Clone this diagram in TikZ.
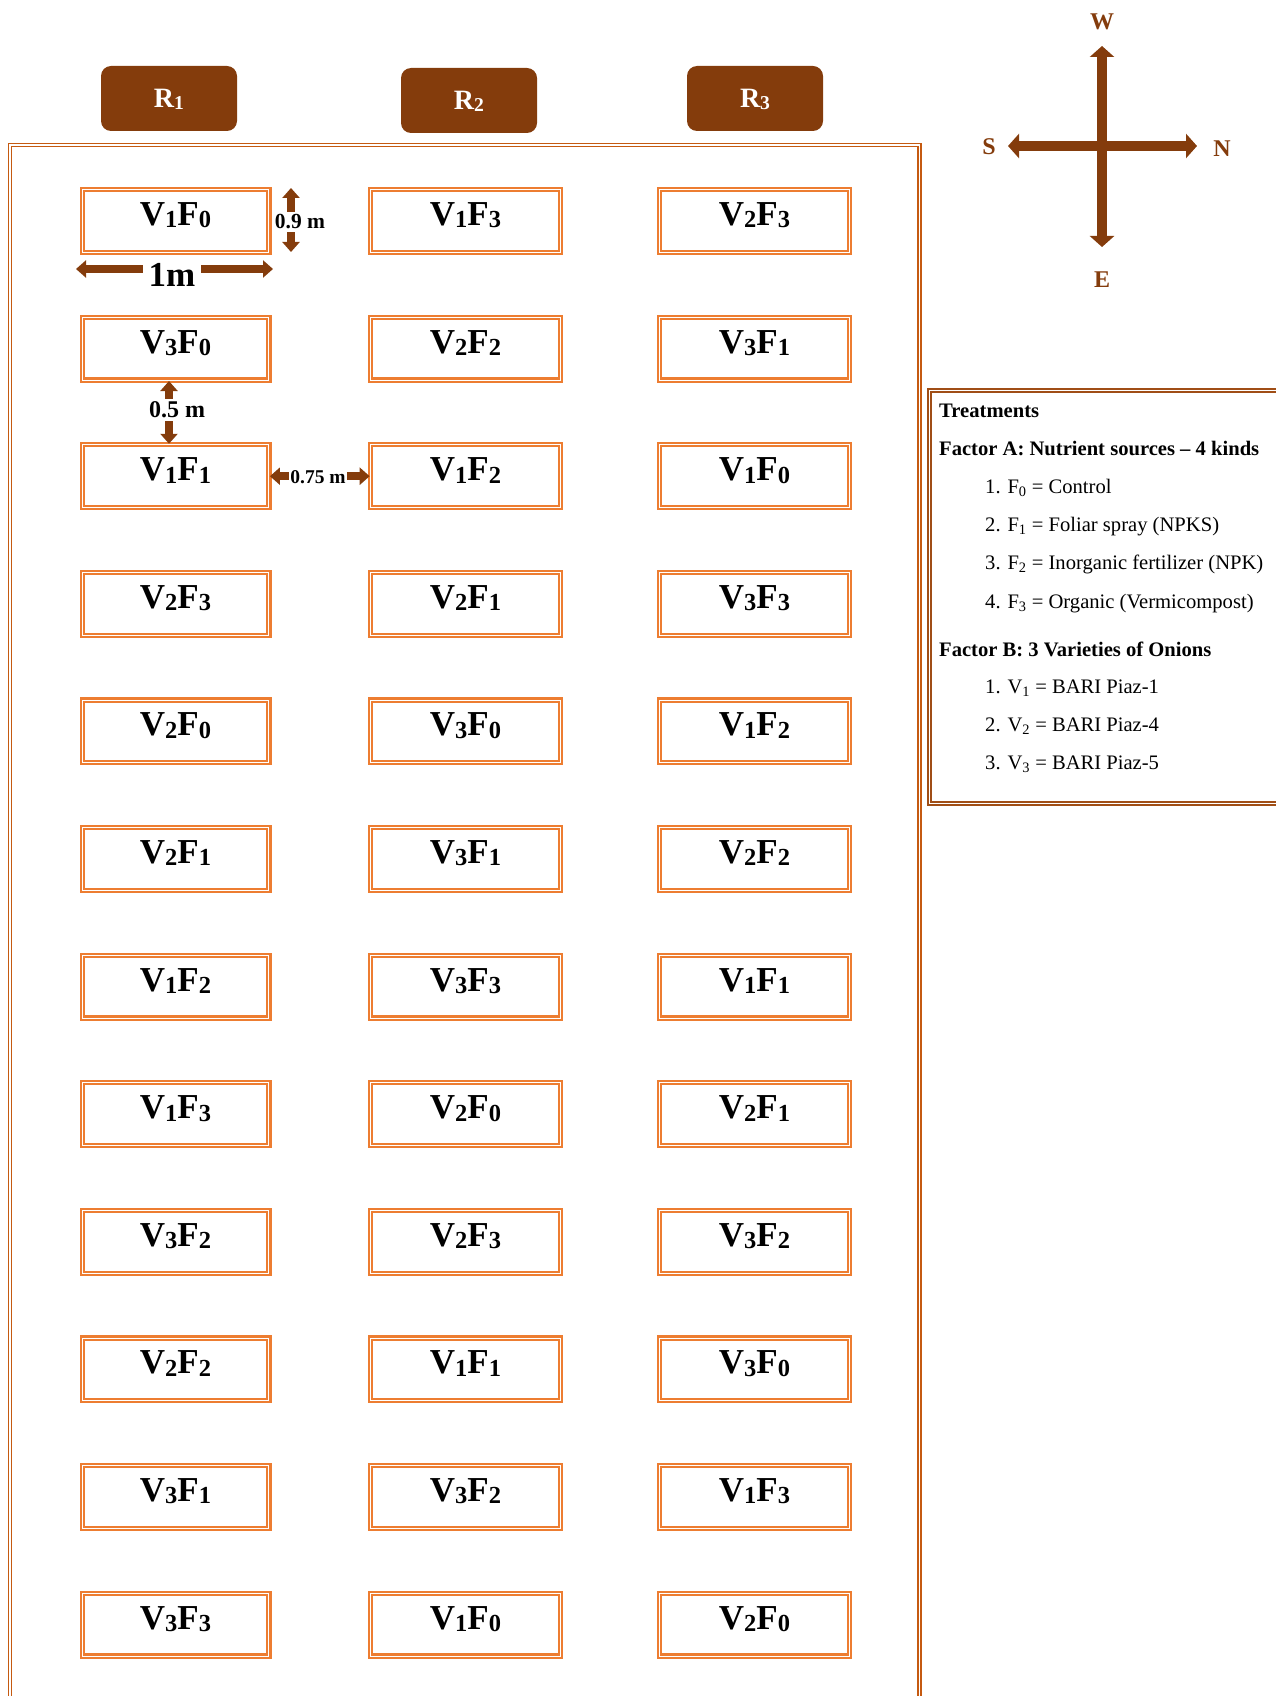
\documentclass[tikz,border=0pt]{standalone}
\usepackage{fontspec}
\setmainfont{Liberation Serif}
\usetikzlibrary{arrows.meta,calc}
\definecolor{plotorange}{RGB}{237,125,49}
\definecolor{repbrown}{RGB}{132,60,12}
\definecolor{framebrown}{RGB}{197,90,17}
\definecolor{legbrown}{RGB}{160,78,22}
\newcommand{\dn}[1]{%
  \raisebox{-0.07em}{\scalebox{0.7}{#1}}}
\newcommand{\vf}[2]{%
  V\dn{#1}F\dn{#2}}
\tikzset{
	plot/.style={draw=plotorange,double,line width=2.1pt,double distance=1pt,minimum width=189.6pt,minimum height=62.8pt,inner sep=0pt,text height=26pt,text depth=17pt,font=\fontsize{35}{40}\selectfont\bfseries},
	rep/.style={fill=repbrown,rounded corners=10pt,minimum width=136pt,minimum height=65pt,inner sep=0pt,text=white,text height=18pt,text depth=0pt,font=\fontsize{28}{32}\selectfont\bfseries},
	dimarrow/.style={draw=repbrown,line width=7.5pt,{Triangle[width=17pt,length=10pt]}-{Triangle[width=17pt,length=10pt]}},
	dimlabel/.style={fill=white,inner sep=3pt},
	compass/.style={draw=repbrown,line width=10pt,{Triangle[width=24pt,length=11pt]}-{Triangle[width=24pt,length=11pt]}},
	dirlabel/.style={text=repbrown,inner sep=0pt,font=\fontsize{24}{28}\selectfont\bfseries},
	legtext/.style={anchor=base west,inner sep=0pt,font=\fontsize{20.6}{25}\selectfont},
}
\begin{document}
\begin{tikzpicture}[x=1pt,y=-1pt]
	\useasboundingbox (0,0) rectangle (1275,1696);
	%field
	\draw[framebrown,double,line width=1.8pt,double distance=1.3pt] (10,145) rectangle (919.5,1730);
	%replications
	\node[rep] (R1) at (169,98.5) {R\dn{1}};
	\node[rep] (R2) at (469,100.5) {R\dn{2}};
	\node[rep] (R3) at (755,98.5) {R\dn{3}};
	%plots
	\foreach \row/\va/\fa/\vb/\fb/\vc/\fc in {1/1/0/1/3/2/3,2/3/0/2/2/3/1,3/1/1/1/2/1/0,4/2/3/2/1/3/3,5/2/0/3/0/1/2,6/2/1/3/1/2/2,7/1/2/3/3/1/1,8/1/3/2/0/2/1,9/3/2/2/3/3/2,10/2/2/1/1/3/0,11/3/1/3/2/1/3,12/3/3/1/0/2/0}{
		\node[plot,minimum width=186.8pt] (p\row-1) at (175.5,{221+127.6*(\row-1)}) {\vf{\va}{\fa}};
		\node[plot] (p\row-2) at (465.5,{221+127.6*(\row-1)}) {\vf{\vb}{\fb}};
		\node[plot] (p\row-3) at (754.5,{221+127.6*(\row-1)}) {\vf{\vc}{\fc}};
	}
	%dimensions
	\coordinate (m1a) at (76,269);
	\coordinate (m1b) at (273,269);
	\draw[dimarrow] (m1a) -- (m1b);
	\node[dimlabel,inner sep=6pt,font=\fontsize{35}{40}\selectfont\bfseries] (m1) at (172,275) {1m};
	\coordinate (m09a) at (291,188);
	\coordinate (m09b) at (291,252);
	\draw[dimarrow] (m09a) -- (m09b);
	\node[dimlabel,font=\fontsize{21.5}{24}\selectfont\bfseries] (m09) at (300,222) {0.9 m};
	\draw[dimarrow] ([xshift=-6.5pt]p2-1.south) -- ([xshift=-6.5pt]p3-1.north);
	\node[dimlabel,font=\fontsize{24}{28}\selectfont\bfseries] (m05) at (177,410) {0.5 m};
	\draw[dimarrow] (p3-1.east) -- (p3-2.west);
	\node[dimlabel,inner sep=1.5pt,font=\fontsize{19.5}{22}\selectfont\bfseries] (m075) at (318,477) {0.75 m};
	%compass
	\coordinate (cw) at (1102,46);
	\coordinate (ce) at (1102,247);
	\coordinate (cs) at (1008,146);
	\coordinate (cn) at (1197,146);
	\draw[compass] (cw) -- (ce);
	\draw[compass] (cs) -- (cn);
	\node[dirlabel] (W) at (1102,22) {W};
	\node[dirlabel] (E) at (1102,280) {E};
	\node[dirlabel] (S) at (989,147) {S};
	\node[dirlabel] (N) at (1222,149) {N};
	%treatments
	\draw[legbrown,double,line width=1.8pt,double distance=1.1pt] (929.5,390.5) rectangle (1300,803.5);
	\node[legtext,font=\fontsize{20.6}{25}\selectfont\bfseries] (tr) at (939,417) {Treatments};
	\node[legtext,font=\fontsize{20.6}{25}\selectfont\bfseries] (fa) at (939,455) {Factor A: Nutrient sources -- 4 kinds};
	\node[legtext] (fa1) at (985,493) {1. F\textsubscript{0} = Control};
	\node[legtext] (fa2) at (985,531) {2. F\textsubscript{1} = Foliar spray (NPKS)};
	\node[legtext] (fa3) at (985,569) {3. F\textsubscript{2} = Inorganic fertilizer (NPK)};
	\node[legtext] (fa4) at (985,608) {4. F\textsubscript{3} = Organic (Vermicompost)};
	\node[legtext,font=\fontsize{20.6}{25}\selectfont\bfseries] (fb) at (939,656) {Factor B: 3 Varieties of Onions};
	\node[legtext] (fb1) at (985,693) {1. V\textsubscript{1} = BARI Piaz-1};
	\node[legtext] (fb2) at (985,731) {2. V\textsubscript{2} = BARI Piaz-4};
	\node[legtext] (fb3) at (985,769) {3. V\textsubscript{3} = BARI Piaz-5};
\end{tikzpicture}
\end{document}
